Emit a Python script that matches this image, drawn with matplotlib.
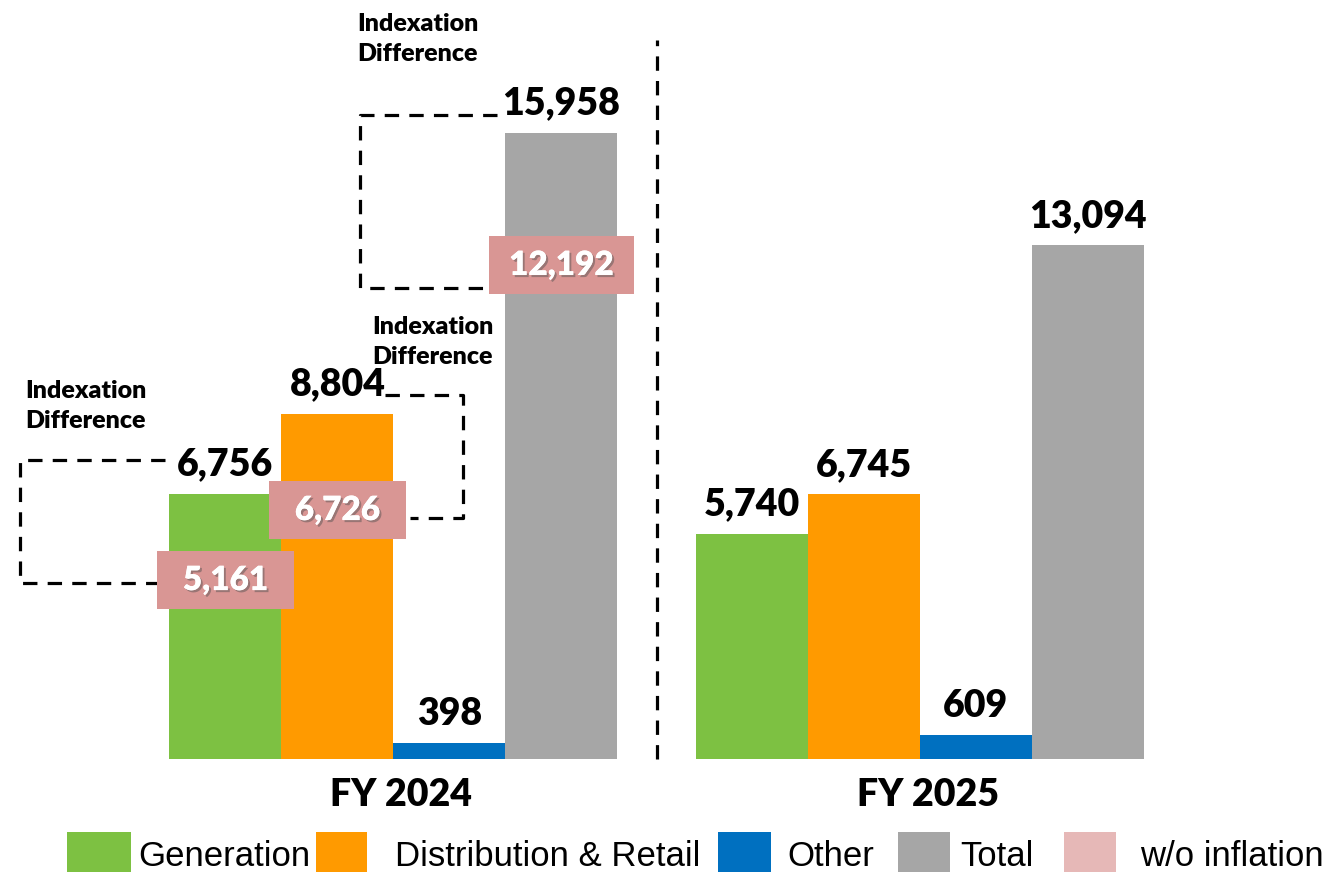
import matplotlib
matplotlib.use('Agg')
import matplotlib.pyplot as plt
import matplotlib.patheffects as pe
from matplotlib.patches import Rectangle
from matplotlib import font_manager

# data
years = ['FY 2024', 'FY 2025']
segments = ['Generation', 'Distribution & Retail', 'Other', 'Total']
fy2024 = [6756, 8804, 398, 15958]
fy2025 = [5740, 6745, 609, 13094]
wo_inflation_2024 = [5161, 6726, None, 12192]
colors = ['#7DC142', '#FF9A00', '#0070C0', '#A6A6A6']
pink_box = '#D99694'
pink_legend = '#E6B8B7'

# pixel <-> data helpers (bar width = 112 px, 0.03923 px per unit)
def px_x(p):
    return (p - 225.5) / 112

def px_y(p):
    return (759 - p) / 0.03923

names = {f.name for f in font_manager.fontManager.ttflist}
legend_font = 'Liberation Sans Narrow' if 'Liberation Sans Narrow' in names else 'Liberation Sans'
label_font = 'Lato'
heavy = 'heavy'

fig = plt.figure(figsize=(13.39, 8.73), dpi=100)
ax = fig.add_axes([0, 0, 1, 1])
ax.axis('off')
ax.set_xlim(px_x(0), px_x(1339))
ax.set_ylim(px_y(873), px_y(0))

group_gap = 4.7
for g, values in enumerate([fy2024, fy2025]):
    xs = [g * group_gap + k for k in range(len(values))]
    ax.bar(xs, values, width=1.0, color=colors, zorder=2)
    for x, v in zip(xs, values):
        ax.annotate(f'{v:,}', (x, v), xytext=(0, 9), textcoords='offset points',
                    ha='center', va='bottom', fontsize=27, fontweight=heavy,
                    family=label_font, zorder=5)
    ax.text(g * group_gap + 1.5 + 0.07, px_y(795), years[g], ha='center', va='center',
            fontsize=27, fontweight=heavy, family=label_font)

# separator between the two years
sep_x = (3.5 + group_gap - 0.5) / 2
ax.plot([sep_x, sep_x], [0, px_y(40)], color='black', lw=2.3,
        linestyle=(0, (4.5, 3.2)), zorder=1)

# w/o inflation labels (FY 2024)
pink_nudge = [-600, -380, None, 400]
pink_w = [1.22, 1.22, None, 1.3]
box_h = 58 / 0.03923
for k, v in enumerate(wo_inflation_2024):
    if v is None:
        continue
    yc = v + pink_nudge[k]
    ax.add_patch(Rectangle((k - pink_w[k] / 2, yc - box_h / 2), pink_w[k], box_h,
                           facecolor=pink_box, edgecolor='none', zorder=4))
    ax.text(k, yc, f'{v:,}', ha='center', va='center', color='white',
            fontsize=24, fontweight=heavy, family=label_font, zorder=6,
            path_effects=[pe.withSimplePatchShadow(offset=(1.5, -1.5), alpha=0.45),
                          pe.Normal()])

# dashed "Indexation Difference" brackets (pixel layout)
brackets = [
    [(165, 460), (20, 460), (20, 583), (158, 583)],
    [(385, 395), (463, 395), (463, 518), (410, 518)],
    [(497, 115), (360, 115), (360, 288), (497, 288)],
]
for pts in brackets:
    ax.plot([px_x(p[0]) for p in pts], [px_y(p[1]) for p in pts], color='black',
            lw=2.3, linestyle=(0, (4.5, 3.2)), zorder=1)

for tx, ty in [(25, 380), (372, 316), (357, 13)]:
    ax.text(px_x(tx), px_y(ty), 'Indexation\nDifference', ha='left', va='top',
            fontsize=18, fontweight=heavy, family=label_font, linespacing=1.45)

# legend
legend_items = [
    ('Generation', colors[0], 67, 131, 138),
    ('Distribution & Retail', colors[1], 316, 367, 395),
    ('Other', colors[2], 718, 771, 787),
    ('Total', colors[3], 898, 950, 960),
    ('w/o inflation', pink_legend, 1064, 1116, 1140),
]
for label, c, x0, x1, tx in legend_items:
    ax.add_patch(Rectangle((px_x(x0), px_y(872)), px_x(x1) - px_x(x0),
                           px_y(832) - px_y(872), facecolor=c, edgecolor='none',
                           clip_on=False))
    ax.text(px_x(tx), px_y(856), label, ha='left', va='center', fontsize=25,
            family=legend_font)

fig.savefig('out.png', dpi=100)
